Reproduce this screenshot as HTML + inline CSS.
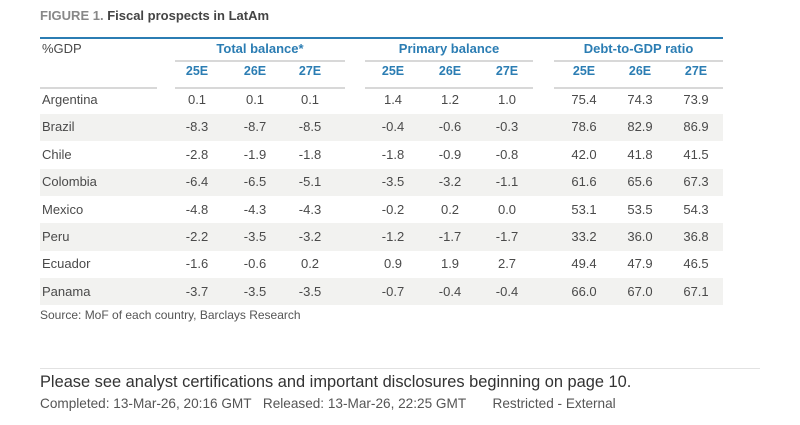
<!DOCTYPE html>
<html><head><meta charset="utf-8"><style>
body{margin:0;width:800px;height:425px;background:#fff;font-family:"Liberation Sans",sans-serif;color:#4a4a4a;position:relative;overflow:hidden}
.a{position:absolute;white-space:nowrap}
.blue{color:#2b7db3;font-weight:bold}
</style></head><body>
<div class="a" style="left:40px;top:8px;font-size:13px;font-weight:bold;color:#444"><span style="color:#888">FIGURE 1.</span> Fiscal prospects in LatAm</div>
<div class="a" style="left:40px;top:37px;width:683px;height:2px;background:#2b7db3"></div>
<div id="tbl"></div>
<div class="a" style="left:40px;top:308px;font-size:12px;color:#555">Source: MoF of each country, Barclays Research</div>
<div class="a" style="left:40px;top:368px;width:720px;height:1px;background:#e2e2e2"></div>
<div class="a" style="left:40px;top:373px;font-size:16.4px;color:#333">Please see analyst certifications and important disclosures beginning on page 10.</div>
<div class="a" style="left:40px;top:396px;font-size:13.6px;color:#555">Completed: 13-Mar-26, 20:16 GMT&nbsp;&nbsp; Released: 13-Mar-26, 22:25 GMT&nbsp;&nbsp;&nbsp;&nbsp;&nbsp;&nbsp; Restricted - External</div>
<script>
const countries=["Argentina","Brazil","Chile","Colombia","Mexico","Peru","Ecuador","Panama"];
const groups=["Total balance*","Primary balance","Debt-to-GDP ratio"];
const years=["25E","26E","27E"];
const totalBalance=[[0.1,0.1,0.1],[-8.3,-8.7,-8.5],[-2.8,-1.9,-1.8],[-6.4,-6.5,-5.1],[-4.8,-4.3,-4.3],[-2.2,-3.5,-3.2],[-1.6,-0.6,0.2],[-3.7,-3.5,-3.5]];
const primaryBalance=[[1.4,1.2,1.0],[-0.4,-0.6,-0.3],[-1.8,-0.9,-0.8],[-3.5,-3.2,-1.1],[-0.2,0.2,0.0],[-1.2,-1.7,-1.7],[0.9,1.9,2.7],[-0.7,-0.4,-0.4]];
const debtRatio=[[75.4,74.3,73.9],[78.6,82.9,86.9],[42.0,41.8,41.5],[61.6,65.6,67.3],[53.1,53.5,54.3],[33.2,36.0,36.8],[49.4,47.9,46.5],[66.0,67.0,67.1]];
const series=[totalBalance,primaryBalance,debtRatio];
const T=document.getElementById('tbl');
function add(html,style,name){const d=document.createElement('div');d.className='a';d.innerHTML=html;d.style.cssText=style;


T.appendChild(d);return d;}
const colX=[[197,255,310],[393,450,507],[584,640,696]];
const grpSpan=[[175,345],[365,533],[554,723]];
add('%GDP','left:42px;top:41px;font-size:13px','units-label');
groups.forEach((g,i)=>{
 add(g,`left:${(grpSpan[i][0]+grpSpan[i][1])/2}px;top:41px;font-size:13px;transform:translateX(-50%)`,'group-header').classList.add('blue');
 add('',`left:${grpSpan[i][0]}px;top:60px;width:${grpSpan[i][1]-grpSpan[i][0]}px;height:1.5px;background:#d8d8d8`,'group-rule');
 add('',`left:${grpSpan[i][0]}px;top:87px;width:${grpSpan[i][1]-grpSpan[i][0]}px;height:1.5px;background:#d8d8d8`,'subheader-rule');
 years.forEach((y,j)=>{add(y,`left:${colX[i][j]}px;top:64px;font-size:12.5px;transform:translateX(-50%)`,'year-header').classList.add('blue');});
});
add('','left:40px;top:87px;width:117px;height:1.5px;background:#d8d8d8','country-rule');
const rowH=27.4,row0=100;
countries.forEach((c,r)=>{
 const yc=row0+r*rowH;
 if(r%2==1) add('',`left:40px;top:${yc-13.7}px;width:683px;height:${rowH}px;background:#f2f2f0`,'row-band');
 add(c,`left:42px;top:${yc-8}px;font-size:13px`,'country-label');
 series.forEach((s,i)=>s[r].forEach((v,j)=>{
  add(v.toFixed(1),`left:${colX[i][j]}px;top:${yc-8}px;font-size:13px;transform:translateX(-50%)`,'value-cell');
 }));
});
</script>
</body></html>
